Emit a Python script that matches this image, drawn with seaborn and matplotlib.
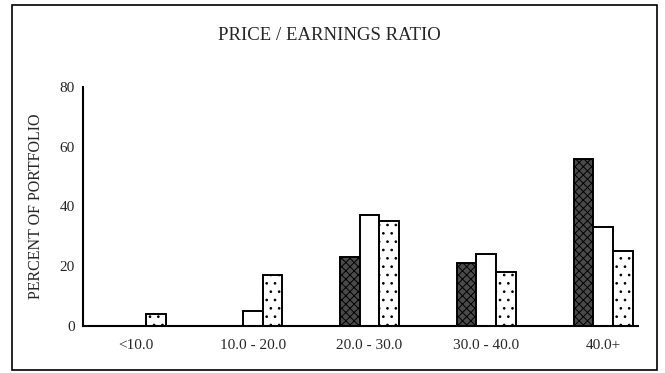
import pandas as pd
import matplotlib.pyplot as plt
import matplotlib.patches as mpatches
import seaborn as sns

# Valores (porcentaje de la cartera)
categories = ["<10.0", "10.0 - 20.0", "20.0 - 30.0", "30.0 - 40.0", "40.0+"]
series_names = ["A", "B", "C"]
series_a = [0, 0, 23, 21, 56]
series_b = [0, 5, 37, 24, 33]
series_c = [4, 17, 35, 18, 25]

y_ticks = [0, 20, 40, 60, 80]


def build_frame():
    rows = []
    for name, vals in zip(series_names, [series_a, series_b, series_c]):
        for cat, v in zip(categories, vals):
            rows.append({"cat": cat, "serie": name, "pct": v})
    return pd.DataFrame(rows)


def plot_chart(df):
    sns.set_style("white")
    plt.rcParams["font.family"] = ["Liberation Serif", "DejaVu Serif"]
    plt.rcParams["hatch.linewidth"] = 0.7

    fig = plt.figure(figsize=(6.65, 3.73), dpi=100)
    ax = fig.add_axes([0.125, 0.126, 0.835, 0.641])

    palette = {"A": "#4a4a4a", "B": "white", "C": "white"}
    sns.barplot(data=df, x="cat", y="pct", hue="serie", order=categories,
                hue_order=series_names, palette=palette, width=0.51,
                edgecolor="black", linewidth=1.4, legend=False, ax=ax)

    hatches = {"A": "xxxx", "B": "", "C": ".."}
    for container, name in zip(ax.containers, series_names):
        for bar in container:
            bar.set_hatch(hatches[name])
            if bar.get_height() == 0:
                bar.set_visible(False)

    ax.set_xlim(-0.45, 4.3)
    ax.set_ylim(0, 80)
    ax.set_yticks(y_ticks)
    ax.set_yticklabels([str(t) for t in y_ticks], fontsize=11)
    ax.tick_params(axis="y", direction="in", length=6, width=1, pad=6)
    ax.tick_params(axis="x", length=0, pad=9, labelsize=11)
    ax.set_xlabel("")
    ax.set_ylabel("PERCENT OF PORTFOLIO", fontsize=11.5, labelpad=11)
    for side in ["top", "right"]:
        ax.spines[side].set_visible(False)
    for side in ["left", "bottom"]:
        ax.spines[side].set_color("black")
        ax.spines[side].set_linewidth(1.5)

    fig.text(0.496, 0.905, "PRICE / EARNINGS RATIO", ha="center", va="center",
             fontsize=13.5)

    # marco exterior
    frame = mpatches.Rectangle((0.018, 0.008), 0.97, 0.979, transform=fig.transFigure,
                               fill=False, edgecolor="black", linewidth=1.2)
    fig.patches.append(frame)

    fig.savefig("out.png", dpi=100)


if __name__ == "__main__":
    plot_chart(build_frame())
